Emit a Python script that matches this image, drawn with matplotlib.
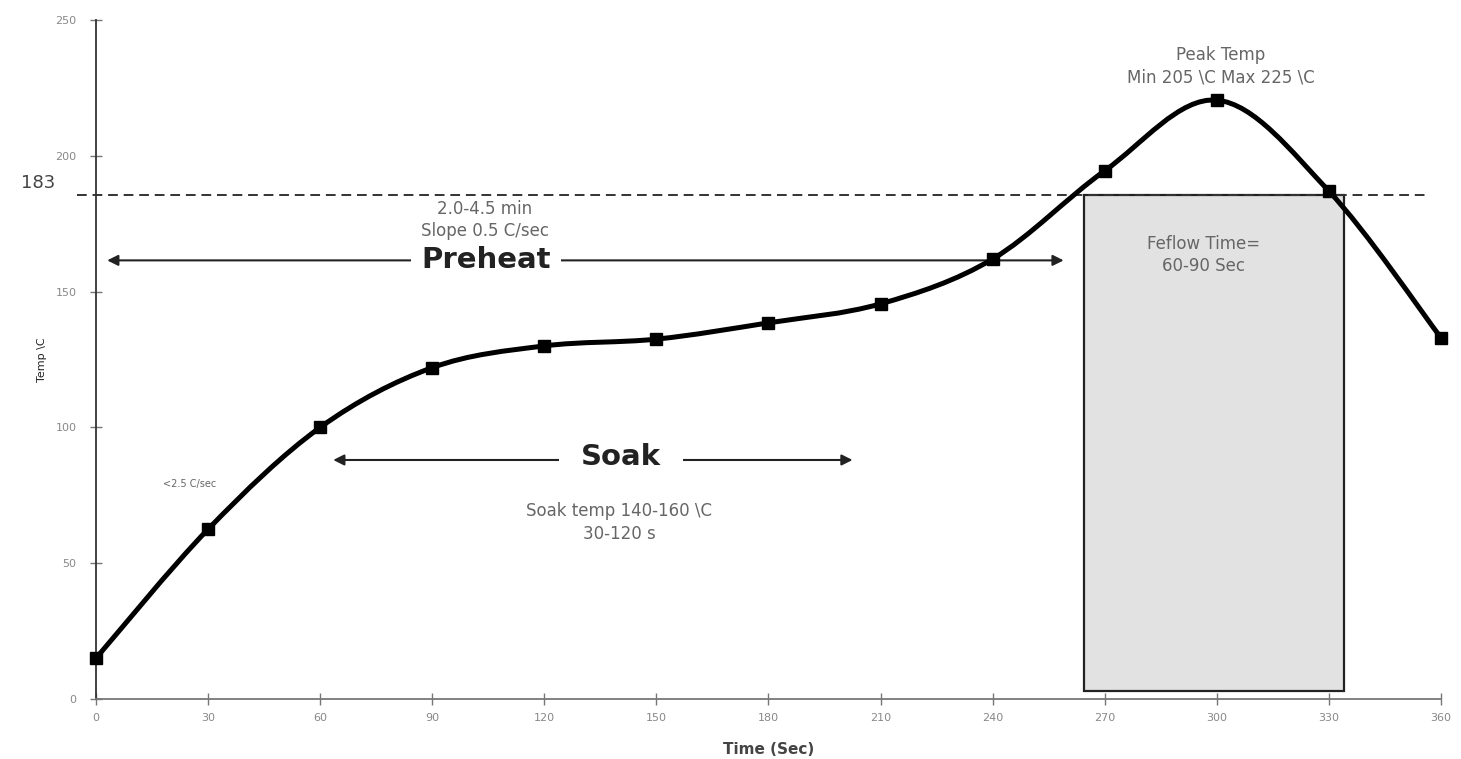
"""Perfil de temperatura de reflujo (soldadura) con zonas Preheat / Soak / Reflow."""
import numpy as np
import matplotlib.pyplot as plt
from matplotlib.path import Path
from matplotlib.patches import PathPatch, Rectangle

plt.rcParams["font.family"] = ["DejaVu Sans"]

# Datos
time_s = [0, 30, 60, 90, 120, 150, 180, 210, 240, 270, 300, 330, 360]
temp_c = [15, 62.5, 100, 122, 130, 132.5, 138.5, 145.5, 162, 194.5, 220.5, 187, 133]

x_ticks = list(range(0, 361, 30))
y_ticks = [0, 50, 100, 150, 200, 250]

LIQUIDUS_LABEL = "183"
LIQUIDUS_LINE = 185.5          # donde aparece dibujada la linea
REFLOW_START, REFLOW_END = 264.5, 334
REFLOW_BOTTOM = 3
PREHEAT = (3, 259, 161.5)      # x0, x1, y
SOAK = (63.5, 202.5, 88)

GREY_TXT = "#666666"
ANN = dict(fontsize=12, color=GREY_TXT, ha="center", va="center",
           linespacing=1.3)

fig = plt.figure(figsize=(14.61, 7.59), dpi=100)
ax = fig.add_axes([0.0657, 0.0791, 0.9206, 0.8945])
ax.set_xlim(0, 360)
ax.set_ylim(0, 250)

for s in ("top", "right"):
    ax.spines[s].set_visible(False)
ax.spines["left"].set_color("#333333")
ax.spines["bottom"].set_color("#777777")
ax.spines["left"].set_linewidth(1.3)
ax.spines["bottom"].set_linewidth(1.3)

ax.set_xticks(x_ticks)
ax.set_yticks(y_ticks)
ax.tick_params(direction="inout", length=8, width=1.0, colors="#777777",
               labelsize=8, labelcolor="#888888")
ax.tick_params(axis="x", pad=6)
ax.tick_params(axis="y", pad=10)
ax.set_xlabel("Time (Sec)", fontsize=11, fontweight="bold", color="#444444",
              labelpad=14)

# zona de reflujo
ax.add_patch(Rectangle((REFLOW_START, REFLOW_BOTTOM), REFLOW_END - REFLOW_START,
                       LIQUIDUS_LINE - REFLOW_BOTTOM, facecolor="#e2e2e2",
                       edgecolor="#222222", lw=1.6, zorder=1))

# linea de liquidus
ax.plot([-5, 356], [LIQUIDUS_LINE, LIQUIDUS_LINE], ls=(0, (5, 3)), lw=1.4,
        color="#333333", clip_on=False, zorder=2)
ax.text(-11, 186.5, LIQUIDUS_LABEL, fontsize=13, color="#444444",
        ha="right", va="bottom")

# curva suavizada (Bezier tipo Catmull-Rom a traves de los puntos)
P = np.column_stack([time_s, temp_c])
verts = [tuple(P[0])]
codes = [Path.MOVETO]
n = len(P)
for i in range(n - 1):
    p0 = P[i - 1] if i > 0 else P[i]
    p1, p2 = P[i], P[i + 1]
    p3 = P[i + 2] if i + 2 < n else P[i + 1]
    c1 = p1 + (p2 - p0) / 6.0
    c2 = p2 - (p3 - p1) / 6.0
    verts += [tuple(c1), tuple(c2), tuple(p2)]
    codes += [Path.CURVE4] * 3
ax.add_patch(PathPatch(Path(verts, codes), facecolor="none", edgecolor="black",
                       lw=3.6, zorder=4, clip_on=False, capstyle="round"))
ax.plot(time_s, temp_c, ls="none", marker="s", ms=8, color="black",
        zorder=5, clip_on=False)

# flechas Preheat / Soak
arrow_kw = dict(arrowstyle="<|-|>", color="#222222", lw=1.5,
                mutation_scale=16, shrinkA=0, shrinkB=0)
ax.annotate("", xy=(PREHEAT[0], PREHEAT[2]), xytext=(PREHEAT[1], PREHEAT[2]),
            arrowprops=arrow_kw, zorder=3)
ax.text(104.5, PREHEAT[2], "Preheat", fontsize=21, fontweight="bold",
        color="#222222", ha="center", va="center", zorder=3,
        bbox=dict(boxstyle="square,pad=0.35", fc="white", ec="none"))
ax.annotate("", xy=(SOAK[0], SOAK[2]), xytext=(SOAK[1], SOAK[2]),
            arrowprops=arrow_kw, zorder=3)
ax.text(140.5, SOAK[2] + 1, "Soak", fontsize=21, fontweight="bold",
        color="#222222", ha="center", va="center", zorder=3,
        bbox=dict(boxstyle="square,pad=0.75", fc="white", ec="none"))

# textos
ax.text(104, 176.5, "2.0-4.5 min\nSlope 0.5 C/sec", **ANN)
ax.text(140, 65, "Soak temp 140-160 \\C\n30-120 s", **ANN)
ax.text(25, 79, "<2.5 C/sec", fontsize=7, color=GREY_TXT, ha="center",
        va="center")
ax.text(301, 233, "Peak Temp\nMin 205 \\C Max 225 \\C", **ANN)
ax.text(296.5, 163.5, "Feflow Time=\n60-90 Sec", zorder=3, **ANN)

# etiqueta del eje y
ax.text(-14.5, 125, "Temp \\C", rotation=90, fontsize=8, color="#222222",
        ha="center", va="center")

fig.savefig("out.png", dpi=100)
